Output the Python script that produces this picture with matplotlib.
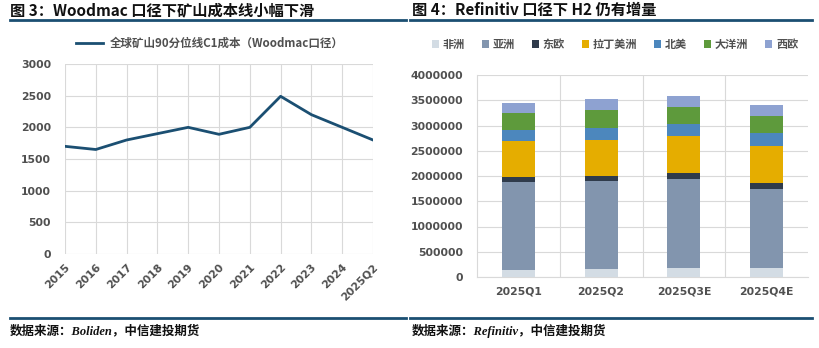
import numpy as np
import matplotlib.pyplot as plt
from matplotlib import font_manager

plt.rcParams['font.family'] = ['Noto Sans CJK SC', 'DejaVu Sans']

# 图3 数据
years = ['2015', '2016', '2017', '2018', '2019', '2020', '2021', '2022', '2023', '2024', '2025Q2']
c1_cost = [1700, 1650, 1800, 1900, 2000, 1890, 2000, 2490, 2200, 2000, 1800]
cost_ticks = [0, 500, 1000, 1500, 2000, 2500, 3000]

# 图4 数据
quarters = ['2025Q1', '2025Q2', '2025Q3E', '2025Q4E']
regions = ['非洲', '亚洲', '东欧', '拉丁美洲', '北美', '大洋洲', '西欧']
africa = [130000, 152000, 172000, 172000]
asia = [1752000, 1752000, 1772000, 1574000]
east_europe = [100000, 93000, 112000, 112000]
latin_america = [714000, 720000, 734000, 734000]
north_america = [224000, 239000, 245000, 258000]
oceania = [325000, 350000, 337000, 344000]
west_europe = [204000, 218000, 212000, 211000]
volume_ticks = [0, 500000, 1000000, 1500000, 2000000, 2500000, 3000000, 3500000, 4000000]
region_colors = ['#D3DCE4', '#8295AE', '#2F3B4B', '#E5AD00', '#4C87BD', '#5E9A3C', '#8EA2D1']

navy = '#1B4F72'
tick_color = '#505050'
grid_color = '#D9D9D9'

tick_prop = font_manager.FontProperties(family='DejaVu Sans', weight='bold', size=7.8)

fig = plt.figure(figsize=(8.19, 3.48), dpi=100)

# 标题和来源
fig.text(10 / 819, 1 - 10 / 348, '图 3：Woodmac 口径下矿山成本线小幅下滑', fontsize=11,
         fontweight='bold', va='center', ha='left', color='#111111')
fig.text(412 / 819, 1 - 10 / 348, '图 4：Refinitiv 口径下 H2 仍有增量', fontsize=11,
         fontweight='bold', va='center', ha='left', color='#111111')
for x0, x1 in [(10, 406), (410, 812)]:
    fig.add_artist(plt.Line2D([x0 / 819, x1 / 819], [1 - 20 / 348] * 2, color=navy, lw=2))
    fig.add_artist(plt.Line2D([x0 / 819, x1 / 819], [1 - 318 / 348] * 2, color=navy, lw=2))
src_font = ['Liberation Serif', 'Noto Sans CJK SC']
fig.text(10 / 819, 1 - 331 / 348, '数据来源：Boliden，中信建投期货', fontsize=9, family=src_font,
         fontweight='bold', style='italic', va='center', ha='left', color='#111111')
fig.text(412 / 819, 1 - 331 / 348, '数据来源：Refinitiv，中信建投期货', fontsize=9, family=src_font,
         fontweight='bold', style='italic', va='center', ha='left', color='#111111')

# 左图：折线
ax1 = fig.add_axes([65 / 819, 1 - 254 / 348, 308 / 819, 190 / 348])
x = np.arange(len(years))
ax1.plot(x, c1_cost, color=navy, lw=2, label='全球矿山90分位线C1成本（Woodmac口径）')
ax1.set_xlim(0, len(years) - 1)
ax1.set_ylim(0, 3000)
ax1.set_yticks(cost_ticks)
ax1.set_yticklabels([str(v) for v in cost_ticks], fontproperties=tick_prop)
ax1.set_xticks(x)
ax1.set_xticklabels(years, rotation=45, ha='right', rotation_mode='anchor', fontproperties=tick_prop)
ax1.grid(True, color=grid_color, lw=0.8)
ax1.set_axisbelow(True)
for s in ax1.spines.values():
    s.set_visible(False)
ax1.tick_params(axis='y', length=0, colors=tick_color, pad=10)
ax1.tick_params(axis='x', length=0, colors=tick_color, pad=6)
ax1.legend(loc='lower center', bbox_to_anchor=(0.47, 1.02), frameon=False,
           handlelength=2.3, handletextpad=0.6, labelcolor=tick_color,
           prop={'weight': 'bold', 'size': 8.3})

# 右图：堆积柱
ax2 = fig.add_axes([477 / 819, 1 - 277 / 348, 331 / 819, 202 / 348])
series = [africa, asia, east_europe, latin_america, north_america, oceania, west_europe]
xq = np.arange(len(quarters))
bottom = np.zeros(len(quarters))
for name, vals, col in zip(regions, series, region_colors):
    ax2.bar(xq, vals, width=0.4, bottom=bottom, color=col, label=name, zorder=3)
    bottom += np.array(vals)
ax2.set_xlim(-0.5, len(quarters) - 0.5)
ax2.set_ylim(0, 4000000)
ax2.set_yticks(volume_ticks)
ax2.set_yticklabels([str(v) for v in volume_ticks], fontproperties=tick_prop)
ax2.set_xticks(xq)
ax2.set_xticklabels(quarters, fontproperties=tick_prop)
ax2.yaxis.grid(True, color=grid_color, lw=0.8)
for b in xq[:-1] + 0.5:
    ax2.axvline(b, color=grid_color, lw=0.8, zorder=1)
for k in ['top', 'right']:
    ax2.spines[k].set_visible(False)
ax2.spines['left'].set_color(grid_color)
ax2.spines['bottom'].set_color(grid_color)
ax2.set_axisbelow(True)
ax2.tick_params(axis='y', length=0, colors=tick_color, pad=10)
ax2.tick_params(axis='x', length=0, colors=tick_color, pad=7)
ax2.legend(loc='lower center', bbox_to_anchor=(0.417, 1.07), ncol=7, frameon=False,
           handlelength=0.65, handleheight=0.65, handletextpad=0.35, columnspacing=1.5,
           labelcolor=tick_color, prop={'weight': 'bold', 'size': 8})

fig.savefig('out.png', dpi=100)
